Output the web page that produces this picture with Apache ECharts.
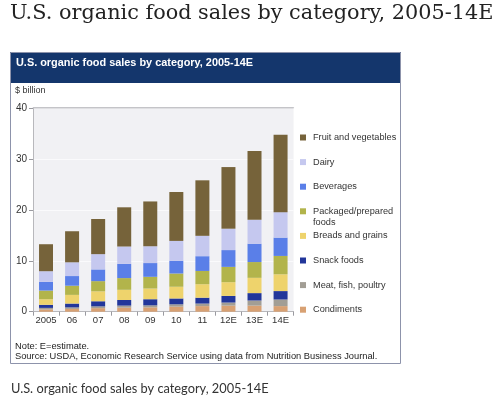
<!DOCTYPE html>
<html>
<head>
<meta charset="utf-8">
<script src="https://cdn.jsdelivr.net/npm/echarts@6/dist/echarts.min.js"></script>
<style>
html,body{margin:0;padding:0;background:#fff;}
#c{width:500px;height:403px;}
</style>
</head>
<body>
<div id="c"></div>
<script>
var categories = ['2005','06','07','08','09','10','11','12E','13E','14E'];
var condiments   = [0.45,0.55,0.7,0.8,0.85,1.0,1.1,1.2,1.2,1.1];
var meat         = [0.3,0.3,0.35,0.4,0.4,0.45,0.5,0.6,1.0,1.3];
var snackFoods   = [0.6,0.75,1.0,1.1,1.2,1.15,1.15,1.3,1.45,1.65];
var breads       = [1.1,1.7,1.95,2.0,2.1,2.3,2.65,2.7,3.0,3.3];
var packaged     = [1.7,1.8,2.0,2.3,2.3,2.6,2.6,3.0,3.1,3.6];
var beverages    = [1.7,1.9,2.3,2.8,2.7,2.5,2.9,3.3,3.6,3.6];
var dairy        = [2.1,2.7,3.0,3.4,3.3,3.9,4.0,4.2,4.7,5.0];
var fruitVeg     = [5.3,6.1,6.9,7.7,8.8,9.6,10.9,12.1,13.5,15.2];
var yTicks = [0,10,20,30,40];

var seriesDefs = [
  {name:'Condiments', data:condiments, color:'#d8a173'},
  {name:'Meat, fish, poultry', data:meat, color:'#a29e95'},
  {name:'Snack foods', data:snackFoods, color:'#22369a'},
  {name:'Breads and grains', data:breads, color:'#eed36c'},
  {name:'Packaged/prepared foods', data:packaged, color:'#b2b44b'},
  {name:'Beverages', data:beverages, color:'#5a7fe8'},
  {name:'Dairy', data:dairy, color:'#c5c8ef'},
  {name:'Fruit and vegetables', data:fruitVeg, color:'#76633a'}
];

var chart = echarts.init(document.getElementById('c'), null, {renderer:'canvas'});
var FONT = 'Liberation Sans';

var series = seriesDefs.map(function(s){
  return {
    name: s.name, type:'bar', stack:'total', data: s.data,
    barWidth: 14,
    itemStyle:{color:s.color},
    emphasis:{disabled:true}
  };
});

var legendOrder = seriesDefs.map(function(s){return s.name;}).reverse();

chart.setOption({
  backgroundColor:'#ffffff',
  animation:false,
  grid:{left:33, top:108, right:206.4, bottom:91.3, show:true, backgroundColor:'#f1f1f4', borderWidth:0},
  xAxis:{
    type:'category', data:categories,
    axisLine:{show:true, lineStyle:{color:'#b8b8bc', width:1}},
    axisTick:{show:true, length:4, lineStyle:{color:'#9a9aa0'}},
    axisLabel:{color:'#333', fontFamily:FONT, fontSize:9.5, margin:4, interval:0}
  },
  yAxis:{
    type:'value', min:0, max:40, interval:10,
    axisLine:{show:true, lineStyle:{color:'#b8b8bc'}},
    axisTick:{show:true, length:4, lineStyle:{color:'#9a9aa0'}},
    axisLabel:{color:'#333', fontFamily:FONT, fontSize:10, margin:6,
      formatter:function(v){return yTicks.indexOf(v)>=0? String(v):'';}},
    splitLine:{show:true, lineStyle:{color:'#fafafc', width:1}}
  },
  legend:{
    orient:'vertical', left:295, top:126.5,
    itemWidth:6, itemHeight:6, itemGap:12.6,
    icon:'rect',
    data:legendOrder,
    selectedMode:false,
    textStyle:{color:'#333', fontFamily:FONT, fontSize:9.2, lineHeight:12, padding:[0,0,0,2]},
    formatter:function(n){ return n==='Packaged/prepared foods' ? 'Packaged/prepared' : n; }
  },
  graphic:[
    {type:'text', x:10, y:14, style:{text:'U.S. organic food sales by category, 2005-14E', fill:'#222', fontFamily:'DejaVu Serif', fontSize:20.8, verticalAlign:'middle'}},
    {type:'rect', shape:{x:10.5, y:52.5, width:390, height:311}, style:{fill:'none', stroke:'#8d93ab', lineWidth:1}, z:10},
    {type:'rect', shape:{x:10, y:52, width:391, height:31}, style:{fill:'#14366c'}, z:9},
    {type:'text', x:16, y:57, style:{text:'U.S. organic food sales by category, 2005-14E', fill:'#fff', fontFamily:FONT, fontWeight:'bold', fontSize:10.9}, z:11},
    {type:'text', x:15, y:86, style:{text:'$ billion', fill:'#333', fontFamily:FONT, fontSize:9}},
    {type:'rect', shape:{x:33, y:107.5, width:260.6, height:0.5}, style:{fill:'none', stroke:'#c4c4c8', lineWidth:1}, z:5},
    {type:'text', x:313, y:222, style:{text:'foods', fill:'#333', fontFamily:FONT, fontSize:9.2, verticalAlign:'middle'}},
    {type:'text', x:15, y:342, style:{text:'Note: E=estimate.', fill:'#222', fontFamily:FONT, fontSize:9.3}},
    {type:'text', x:15, y:352, style:{text:'Source: USDA, Economic Research Service using data from Nutrition Business Journal.', fill:'#222', fontFamily:FONT, fontSize:9.3}},
    {type:'text', x:11, y:382, style:{text:'U.S. organic food sales by category, 2005-14E', fill:'#333', fontFamily:'Lato', fontSize:12.8}}
  ],
  series:series
});
</script>
</body>
</html>
